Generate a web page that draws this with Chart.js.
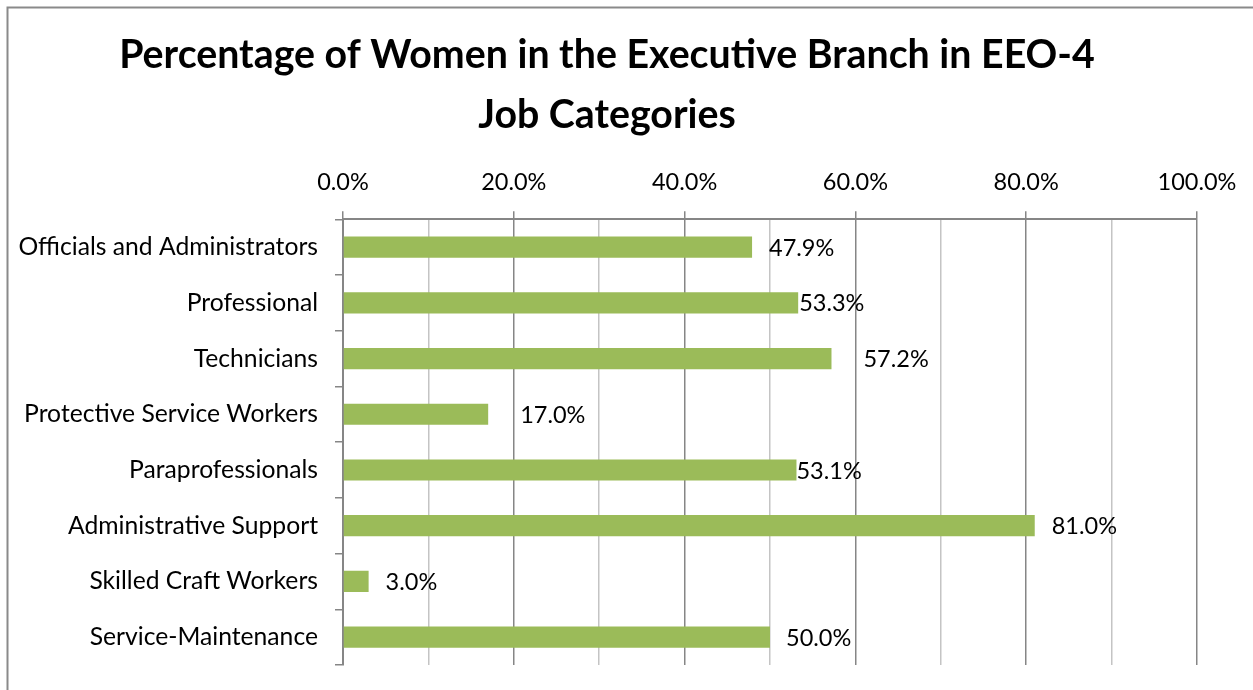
<!DOCTYPE html>
<html>
<head>
<meta charset="utf-8">
<title>Percentage of Women in the Executive Branch</title>
<script src="https://cdn.jsdelivr.net/npm/chart.js@4.4.1/dist/chart.umd.min.js"></script>
<style>
  html, body { margin: 0; padding: 0; background: #fff; }
  #wrap { width: 1253px; height: 690px; position: relative; }
</style>
</head>
<body>
<div id="wrap"><canvas id="womenChart"></canvas></div>
<script>
var categories = [
  "Officials and Administrators",
  "Professional",
  "Technicians",
  "Protective Service Workers",
  "Paraprofessionals",
  "Administrative Support",
  "Skilled Craft Workers",
  "Service-Maintenance"
];
var womenPct = [47.9, 53.3, 57.2, 17.0, 53.1, 81.0, 3.0, 50.0];
var titleLines = ["Percentage of Women in the Executive Branch in EEO-4", "Job Categories"];

// how far each value label sits right of its bar end (px)
var labelShift = [17, 1, 32, 32, 0, 17, 17, 16];

var FONT = "Lato, 'Open Sans', sans-serif";
var AXIS_GREY = "#868686";
var MINOR_GREY = "#c4c4c4";

// gray frame on the left and top edges
var framePlugin = {
  id: "frame",
  beforeDraw: function(chart) {
    var ctx = chart.ctx;
    ctx.save();
    ctx.strokeStyle = "#8a8a8a";
    ctx.lineWidth = 2;
    ctx.beginPath();
    ctx.moveTo(7.5, chart.height);
    ctx.lineTo(7.5, 7.5);
    ctx.lineTo(chart.width, 7.5);
    ctx.stroke();
    ctx.restore();
  }
};

// percentage text next to each bar
var valueLabels = {
  id: "valueLabels",
  afterDatasetsDraw: function(chart) {
    var ctx = chart.ctx;
    var meta = chart.getDatasetMeta(0);
    ctx.save();
    ctx.font = "23.5px " + FONT;
    ctx.fillStyle = "#000";
    ctx.textAlign = "left";
    ctx.textBaseline = "middle";
    meta.data.forEach(function(bar, i) {
      var v = chart.data.datasets[0].data[i];
      ctx.fillText(v.toFixed(1) + "%", bar.x + labelShift[i], bar.y + 1);
    });
    ctx.restore();
  }
};

var ctx = document.getElementById("womenChart").getContext("2d");
var chart = new Chart(ctx, {
  type: "bar",
  data: {
    labels: categories,
    datasets: [{
      data: womenPct,
      backgroundColor: "#9bbb59",
      borderWidth: 0,
      categoryPercentage: 1,
      barPercentage: 0.38
    }]
  },
  options: {
    indexAxis: "y",
    responsive: true,
    maintainAspectRatio: false,
    animation: false,
    layout: { padding: { left: 17, right: 56, top: 0, bottom: 25 } },
    plugins: {
      legend: { display: false },
      tooltip: { enabled: false },
      title: {
        display: true,
        text: titleLines,
        color: "#000",
        font: { family: FONT, size: 39.3, weight: "bold", lineHeight: 1.53 },
        padding: { top: 25, bottom: 0 }
      }
    },
    scales: {
      x: {
        position: "top",
        min: 0,
        max: 100,
        afterFit: function(scale) { scale.height = 74; },
        ticks: {
          stepSize: 10,
          autoSkip: false,
          maxRotation: 0,
          padding: 15,
          color: "#000",
          font: { family: FONT, size: 23.5 },
          callback: function(value) {
            return value % 20 === 0 ? value.toFixed(1) + "%" : "";
          }
        },
        grid: {
          lineWidth: 1.5,
          tickLength: 8,
          color: function(c) {
            return c.tick && c.tick.value % 20 === 0 ? AXIS_GREY : MINOR_GREY;
          },
          tickColor: function(c) {
            return c.tick && c.tick.value % 20 === 0 ? AXIS_GREY : "rgba(0,0,0,0)";
          }
        },
        border: { color: AXIS_GREY, width: 2 }
      },
      y: {
        afterFit: function(scale) {
          scale.width = 326;
          // let the layout padding alone decide the plot's bottom edge
          scale.paddingTop = 0;
          scale.paddingBottom = 0;
        },
        ticks: {
          padding: 17,
          color: "#000",
          font: { family: FONT, size: 24.7 }
        },
        grid: {
          offset: true,
          drawOnChartArea: false,
          tickLength: 8,
          lineWidth: 1.5,
          tickColor: AXIS_GREY
        },
        border: { color: AXIS_GREY, width: 2 }
      }
    }
  },
  plugins: [framePlugin, valueLabels]
});
</script>
</body>
</html>
